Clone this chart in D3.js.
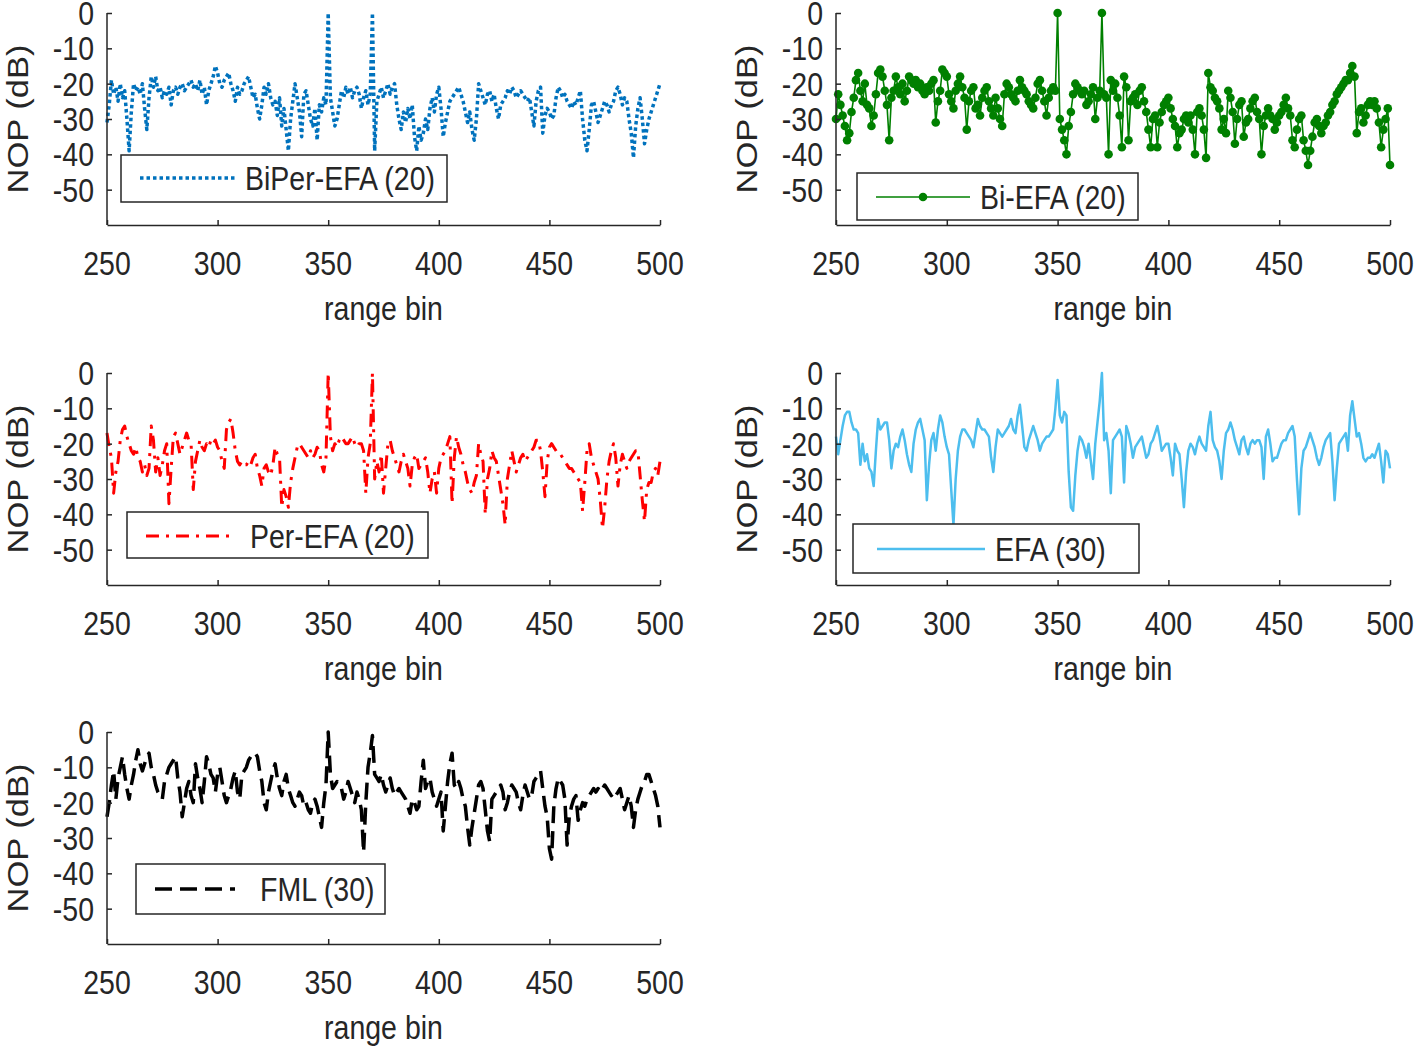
<!DOCTYPE html>
<html><head><meta charset="utf-8">
<script src="https://cdn.jsdelivr.net/npm/d3@7"></script>
<style>body{margin:0;background:#fff} svg{display:block}</style>
</head><body>
<svg id="c" width="1418" height="1049"></svg>
<script>
// ---------------- data ----------------
const startBin = 250;
const xTicks = [250, 300, 350, 400, 450, 500];
const yTicks = [0, -10, -20, -30, -40, -50];
const xLabel = "range bin";
const yLabel = "NOP (dB)";

const biperEfa = [-31,-26,-19,-23,-21,-25,-20,-24,-22,-30,
-39,-28,-20,-22,-21,-23,-20,-27,-33,-24,
-18,-21,-18,-22,-21,-24,-22,-23,-21,-26,
-22,-21,-23,-21,-20,-22,-21,-20,-19,-21,
-20,-22,-19,-23,-21,-26,-22,-20,-18,-15,
-17,-20,-21,-19,-18,-17,-20,-22,-25,-21,
-23,-22,-20,-19,-18,-21,-24,-23,-27,-30,
-26,-21,-23,-20,-24,-26,-25,-29,-24,-32,
-27,-33,-39,-30,-25,-20,-24,-28,-35,-23,
-22,-26,-30,-32,-27,-36,-26,-28,-24,-26,
0,-24,-28,-32,-30,-26,-22,-24,-21,-23,
-21,-24,-22,-21,-23,-27,-24,-22,-26,-23,
0,-39,-25,-23,-21,-24,-22,-20,-23,-21,
-20,-26,-30,-33,-28,-31,-27,-30,-26,-35,
-39,-32,-36,-34,-30,-33,-27,-24,-28,-23,
-21,-27,-35,-31,-28,-25,-24,-23,-22,-21,
-23,-25,-28,-31,-28,-33,-36,-30,-20,-22,
-24,-26,-23,-22,-25,-23,-27,-30,-26,-25,
-24,-22,-23,-21,-22,-24,-23,-22,-23,-24,
-25,-24,-28,-32,-25,-22,-21,-34,-29,-27,
-28,-30,-29,-24,-21,-22,-24,-23,-25,-26,
-27,-25,-26,-24,-22,-30,-36,-39,-33,-26,
-25,-28,-31,-29,-27,-25,-26,-28,-26,-25,
-22,-21,-23,-26,-24,-25,-30,-34,-41,-32,
-27,-24,-30,-37,-33,-30,-28,-26,-24,-22,
-20];

const biEfa = [-30,-23,-26,-29,-32,-36,-34,-28,-24,-19,
-17,-22,-25,-20,-26,-27,-32,-29,-23,-17,
-16,-18,-22,-26,-36,-24,-22,-18,-21,-23,
-20,-25,-22,-18,-19,-20,-19,-21,-20,-22,
-23,-21,-22,-20,-19,-31,-25,-22,-16,-17,
-18,-23,-25,-27,-22,-20,-18,-21,-24,-33,
-25,-22,-21,-27,-26,-29,-24,-22,-21,-25,
-27,-29,-24,-27,-30,-32,-23,-20,-21,-23,
-24,-25,-22,-19,-21,-22,-23,-25,-26,-27,
-24,-20,-19,-22,-25,-29,-24,-22,-21,-22,
0,-30,-33,-36,-40,-32,-28,-23,-20,-21,
-22,-23,-22,-26,-25,-23,-21,-30,-24,-22,
0,-23,-24,-40,-19,-22,-20,-24,-29,-38,
-18,-21,-36,-25,-24,-23,-26,-22,-21,-25,
-28,-33,-38,-30,-29,-38,-31,-28,-26,-25,
-24,-27,-30,-32,-38,-34,-33,-30,-29,-31,
-29,-33,-40,-28,-27,-29,-33,-41,-17,-21,
-22,-24,-25,-27,-33,-30,-34,-22,-24,-28,
-37,-30,-26,-25,-35,-31,-30,-27,-25,-24,
-28,-30,-40,-32,-29,-27,-29,-30,-33,-31,
-29,-28,-26,-24,-27,-29,-36,-38,-33,-30,
-29,-36,-39,-43,-39,-35,-31,-30,-32,-34,
-32,-31,-29,-28,-26,-25,-23,-22,-21,-20,
-19,-19,-17,-15,-18,-34,-28,-27,-31,-29,
-26,-25,-26,-25,-27,-31,-38,-33,-30,-27,
-43];

const perEfa = [-17,-21,-24,-34,-28,-25,-19,-16,-15,-18,
-20,-22,-23,-21,-24,-25,-28,-26,-29,-27,
-15,-19,-28,-24,-29,-26,-22,-20,-37,-27,
-18,-17,-20,-23,-21,-19,-17,-19,-20,-33,
-25,-22,-19,-21,-22,-20,-21,-19,-20,-19,
-21,-22,-25,-27,-16,-14,-13,-17,-22,-25,
-26,-25,-26,-26,-25,-26,-24,-23,-27,-29,
-32,-27,-26,-28,-29,-26,-21,-23,-24,-38,
-33,-35,-38,-31,-27,-24,-21,-20,-21,-22,
-23,-24,-22,-24,-23,-21,-22,-26,-28,-24,
0,-18,-22,-20,-21,-19,-18,-19,-20,-20,
-19,-18,-20,-21,-20,-20,-22,-34,-24,-20,
0,-30,-25,-28,-23,-34,-27,-20,-19,-22,
-24,-26,-28,-25,-23,-25,-27,-32,-26,-24,
-23,-27,-26,-25,-24,-28,-34,-30,-28,-34,
-27,-24,-23,-22,-20,-18,-37,-24,-18,-21,
-23,-26,-28,-31,-33,-34,-31,-29,-20,-23,
-25,-40,-30,-27,-22,-24,-25,-29,-33,-37,
-43,-30,-26,-22,-25,-28,-26,-24,-23,-25,
-24,-23,-22,-21,-19,-19,-22,-28,-35,-25,
-21,-20,-21,-22,-23,-23,-24,-25,-26,-27,
-27,-28,-29,-30,-31,-39,-31,-22,-20,-24,
-26,-28,-30,-36,-44,-38,-30,-25,-22,-20,
-24,-32,-26,-23,-25,-27,-25,-24,-23,-22,
-22,-29,-36,-42,-33,-31,-31,-28,-27,-29,
-25];

const efa = [-18,-23,-19,-15,-12,-11,-11,-14,-16,-16,
-17,-26,-20,-25,-23,-27,-28,-32,-22,-13,
-16,-15,-14,-14,-19,-27,-22,-20,-21,-18,
-16,-19,-23,-26,-28,-20,-16,-14,-13,-16,
-19,-36,-26,-19,-17,-22,-16,-12,-14,-18,
-21,-23,-33,-43,-30,-22,-18,-16,-16,-17,
-18,-19,-21,-17,-13,-15,-16,-16,-17,-18,
-24,-28,-21,-16,-17,-18,-17,-16,-15,-13,
-16,-17,-12,-9,-15,-21,-22,-19,-17,-15,
-17,-19,-22,-20,-19,-18,-18,-17,-16,-10,
-2,-12,-14,-11,-12,-28,-38,-39,-29,-22,
-18,-19,-21,-24,-20,-25,-30,-20,-14,-8,
0,-19,-17,-22,-34,-19,-18,-17,-16,-18,
-31,-15,-17,-20,-24,-21,-20,-19,-18,-21,
-24,-23,-20,-19,-17,-15,-18,-22,-21,-20,
-20,-24,-29,-20,-22,-23,-30,-38,-28,-22,
-20,-21,-23,-20,-18,-20,-21,-22,-15,-11,
-19,-21,-22,-25,-30,-22,-17,-16,-14,-16,
-19,-21,-23,-19,-18,-21,-23,-20,-19,-20,
-19,-19,-21,-30,-18,-16,-20,-25,-24,-24,
-22,-20,-19,-19,-17,-16,-15,-18,-30,-40,
-27,-22,-21,-19,-17,-19,-21,-24,-26,-24,
-21,-19,-18,-17,-25,-36,-27,-20,-19,-18,
-17,-22,-12,-8,-13,-18,-17,-20,-24,-25,
-24,-24,-23,-24,-22,-20,-25,-31,-22,-23,
-27];

const fml = [-24,-20,-15,-11,-19,-13,-10,-7,-12,-16,
-19,-15,-12,-8,-5,-9,-11,-9,-7,-6,
-10,-12,-15,-17,-18,-19,-14,-12,-10,-9,
-8,-7,-13,-17,-24,-20,-16,-14,-18,-20,
-9,-13,-16,-20,-14,-7,-9,-12,-13,-17,
-12,-10,-14,-18,-20,-18,-16,-13,-11,-17,
-19,-12,-11,-10,-8,-7,-6,-6,-7,-11,
-14,-20,-22,-17,-14,-11,-9,-13,-16,-18,
-14,-12,-16,-18,-20,-21,-19,-17,-18,-21,
-20,-22,-23,-20,-19,-21,-24,-27,-20,-15,
0,-12,-16,-15,-14,-15,-16,-19,-17,-14,
-16,-18,-20,-17,-19,-22,-34,-20,-10,-6,
-1,-12,-13,-14,-12,-15,-17,-15,-13,-16,
-18,-17,-16,-17,-18,-19,-21,-23,-19,-20,
-22,-21,-14,-8,-16,-14,-13,-17,-19,-21,
-19,-17,-28,-21,-14,-9,-6,-15,-16,-14,
-16,-19,-21,-27,-32,-27,-23,-19,-15,-14,
-16,-22,-28,-31,-19,-18,-17,-16,-15,-17,
-22,-20,-17,-15,-16,-17,-20,-22,-18,-15,
-17,-19,-18,-14,-13,-12,-11,-16,-21,-24,
-33,-36,-21,-16,-13,-14,-15,-19,-32,-24,
-21,-19,-18,-25,-22,-20,-21,-19,-18,-17,
-16,-17,-16,-17,-16,-15,-16,-17,-18,-17,
-18,-17,-16,-19,-22,-20,-18,-21,-27,-22,
-19,-17,-15,-14,-12,-12,-14,-16,-18,-21,
-27];

const seriesNames = ["BiPer-EFA (20)", "Bi-EFA (20)", "Per-EFA (20)", "EFA (30)", "FML (30)"];
const seriesData = [biperEfa, biEfa, perEfa, efa, fml];

// ---------------- layout / style ----------------
const cols = [[107, 660], [836, 1390]];
const rows = [[13, 225], [373, 585], [732, 944]];
const styles = [
  {color: "#0072BD", width: 3.5, dash: "3.5,3"},
  {color: "#008000", width: 1.6, dash: null, marker: 4.3},
  {color: "#FF0000", width: 3, dash: "13,7,3,7"},
  {color: "#4DBEEE", width: 2.5, dash: null},
  {color: "#000000", width: 3.5, dash: "17,8"}
];
const cells = [[0,0],[1,0],[0,1],[1,1],[0,2]];
const legends = [
  {bx:121, by:155, bw:326, bh:47, l1:140, l2:235, ly:178, tx:245},
  {bx:857, by:173, bw:281, bh:47, l1:876, l2:970, ly:197, tx:980},
  {bx:127, by:512, bw:301, bh:46, l1:146, l2:232, ly:536, tx:250},
  {bx:853, by:524, bw:286, bh:49, l1:877, l2:985, ly:549, tx:995},
  {bx:136, by:864, bw:249, bh:50, l1:155, l2:235, ly:889, tx:260}
];
const FS = 28.5, SY = 1.15, FONT = "'Liberation Sans', Arial, Helvetica, sans-serif", INK = "#262626";

const svg = d3.select("#c");

function txt(g, x, y, s, anchor, fs, rot) {
  return g.append("text")
    .attr("transform", `translate(${x},${y}) scale(1,${SY})` + (rot ? " rotate(-90)" : ""))
    .attr("text-anchor", anchor)
    .attr("font-family", FONT)
    .attr("font-size", fs)
    .attr("fill", INK)
    .text(s);
}

seriesData.forEach((data, i) => {
  const [ci, ri] = cells[i];
  const [x0, x1] = cols[ci];
  const [yT, yB] = rows[ri];
  const st = styles[i];
  const lg = legends[i];
  const x = d3.scaleLinear().domain([250, 500]).range([x0, x1]);
  const y = d3.scaleLinear().domain([-60, 0]).range([yB, yT]);
  const g = svg.append("g");

  const pts = data.map((v, k) => [startBin + k, v]);

  const line = d3.line().x(d => x(d[0])).y(d => y(d[1]));
  const p = g.append("path").datum(pts)
    .attr("d", line)
    .attr("fill", "none")
    .attr("stroke", st.color)
    .attr("stroke-width", st.width)
    .attr("stroke-linejoin", "round");
  if (st.dash) p.attr("stroke-dasharray", st.dash);
  if (st.marker) {
    g.selectAll("circle.m").data(pts).join("circle")
      .attr("cx", d => x(d[0])).attr("cy", d => y(d[1]))
      .attr("r", st.marker).attr("fill", st.color);
  }

  const ax = d3.axisBottom(x).tickValues(xTicks).tickSizeInner(-5).tickSizeOuter(0).tickFormat("");
  const ay = d3.axisLeft(y).tickValues(yTicks).tickSizeInner(-5).tickSizeOuter(0).tickFormat("");
  const gx = g.append("g").attr("transform", `translate(0,${yB})`).call(ax);
  const gy = g.append("g").attr("transform", `translate(${x0},0)`).call(ay);
  [gx, gy].forEach(a => {
    a.select(".domain").attr("stroke", INK).attr("stroke-width", 1.5);
    a.selectAll(".tick line").attr("stroke", INK).attr("stroke-width", 1.5);
  });
  gy.select(".domain").attr("d", `M0,${y(-60)}V${y(0)}`);

  xTicks.forEach(t => txt(g, x(t), yB + 50, String(t), "middle", FS));
  yTicks.forEach(t => txt(g, x0 - 13, y(t) + 12, String(t), "end", FS));
  txt(g, (x0 + x1) / 2, yB + 95, xLabel, "middle", FS);
  txt(g, x0 - 79, (yT + yB) / 2, yLabel, "middle", 30, true);

  g.append("rect").attr("x", lg.bx).attr("y", lg.by).attr("width", lg.bw).attr("height", lg.bh)
    .attr("fill", "#fff").attr("stroke", INK).attr("stroke-width", 1.5);
  const ls = g.append("line").attr("x1", lg.l1).attr("x2", lg.l2).attr("y1", lg.ly).attr("y2", lg.ly)
    .attr("stroke", st.color).attr("stroke-width", st.width);
  if (st.dash) ls.attr("stroke-dasharray", st.dash);
  if (st.marker) g.append("circle").attr("cx", (lg.l1 + lg.l2) / 2).attr("cy", lg.ly).attr("r", st.marker).attr("fill", st.color);
  txt(g, lg.tx, lg.ly + 12, seriesNames[i], "start", FS);
});
</script>
</body></html>
